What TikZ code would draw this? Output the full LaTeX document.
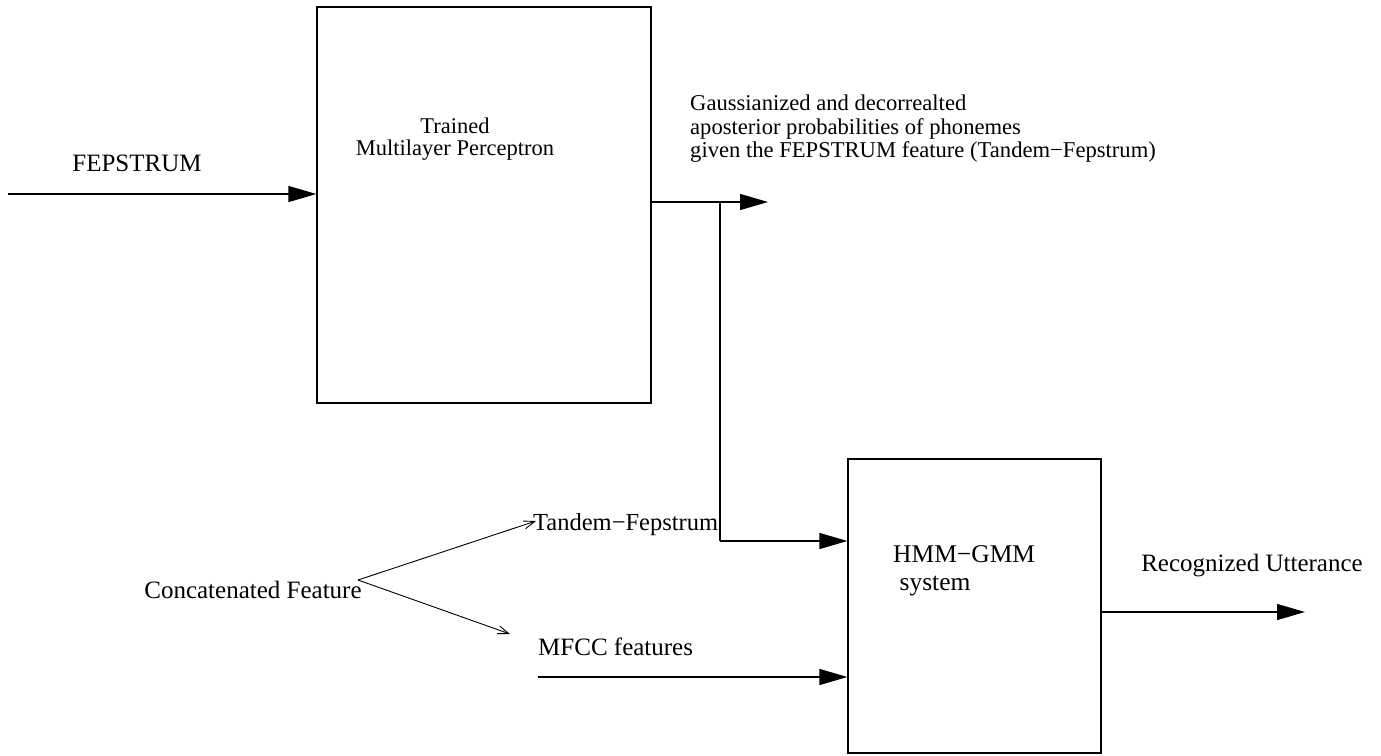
\documentclass[tikz,border=0pt]{standalone}
\usepackage{fontspec}
\setmainfont{Liberation Serif}
\usetikzlibrary{arrows.meta,calc}
\newcommand{\fs}[2]{\fontsize{#1}{#2}\selectfont}
\begin{document}
\begin{tikzpicture}[x=1pt,y=-1pt,
  box/.style={draw,line width=1.3pt,inner sep=0pt},
  lbl/.style={inner sep=0pt},
  conn/.style={line width=1.3pt,-{Triangle[length=28pt,width=16pt]}},
  thin/.style={line width=0.9pt,-{Straight Barb[length=11pt,width=8pt]}}]
\useasboundingbox (0,0) rectangle (1381,755);
% boxes
\node[box,minimum width=334pt,minimum height=396pt] (mlp) at (484,205) {};
\node[box,minimum width=253pt,minimum height=294pt] (hmm) at (974.5,606) {};
% texts
\node[lbl,align=center,font=\fs{22.5}{22}] (mlpt) at (455,139) {Trained\\Multilayer Perceptron};
\node[lbl,font=\fs{25}{28}] (fep) at (137,163) {FEPSTRUM};
\node[lbl,align=left,anchor=west,font=\fs{22.6}{23.5}] (gauss) at (690,129) {Gaussianized and decorrealted\\aposterior probabilities of phonemes\\given the FEPSTRUM feature (Tandem−Fepstrum)};
\node[lbl,align=left,anchor=west,font=\fs{25.5}{28}] (hmmt) at (893,571) {HMM−GMM\\\ system};
\node[lbl,font=\fs{25}{28}] (rec) at (1252,566) {Recognized Utterance};
\node[lbl,font=\fs{25}{28}] (concat) at (253,590) {Concatenated Feature};
\node[lbl,anchor=west,font=\fs{24.5}{28}] (tandem) at (533,525) {Tandem−Fepstrum};
\node[lbl,anchor=west,font=\fs{25}{28}] (mfcc) at (538,647) {MFCC features};
% coordinates
\coordinate (in) at (8,194);
\coordinate (outend) at (768,202);
\coordinate (br) at (720,202);
\coordinate (brd) at (720,541);
\coordinate (mfin) at (538,677);
\coordinate (recout) at (1305,612);
\coordinate (cf) at (358,580);
\coordinate (tf) at (536,521);
\coordinate (mf) at (510,634);
% connectors
\draw[conn] (in) -- (in -| mlp.west);
\draw[conn] (outend -| mlp.east) -- (outend);
\draw[line width=1.3pt] (br) -- (brd);
\draw[conn] (brd) -- (brd -| hmm.west);
\draw[conn] (mfin) -- (mfin -| hmm.west);
\draw[conn] (recout -| hmm.east) -- (recout);
\draw[thin] (cf) -- (tf);
\draw[thin] (cf) -- (mf);
\end{tikzpicture}
\end{document}
